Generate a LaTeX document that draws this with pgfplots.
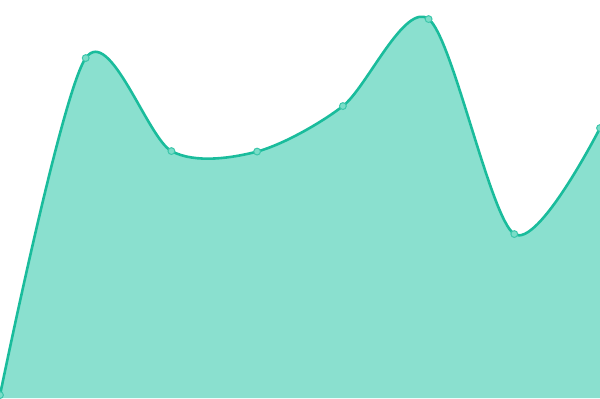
\documentclass[border=0pt]{standalone}
\usepackage{pgfplots}
\pgfplotsset{compat=1.18}
\definecolor{turq}{HTML}{1ABC9C}
\definecolor{turqfill}{HTML}{8AE0CF}
\definecolor{turqmark}{HTML}{7ADDC8}
\begin{document}
\begin{tikzpicture}
\begin{axis}[
    scale only axis,
    width=600bp, height=400bp,
    xmin=0, xmax=600, ymin=0, ymax=400,
    hide axis,
    clip marker paths=true,
]
\addplot[draw=none, fill=turqfill, smooth, tension=0.5] coordinates {
  (0,3) (85.7,340) (171.4,247) (257.1,246.5) (342.9,292) (428.6,379) (514.3,164) (600,270)
} \closedcycle;
\addplot[turq, line width=2.6bp, smooth, tension=0.5,
  mark=*, mark size=3.4bp,
  mark options={fill=turqmark, draw=turq!85!white, line width=1bp}] coordinates {
  (0,3) (85.7,340) (171.4,247) (257.1,246.5) (342.9,292) (428.6,379) (514.3,164) (600,270)
};
\end{axis}
\end{tikzpicture}
\end{document}
